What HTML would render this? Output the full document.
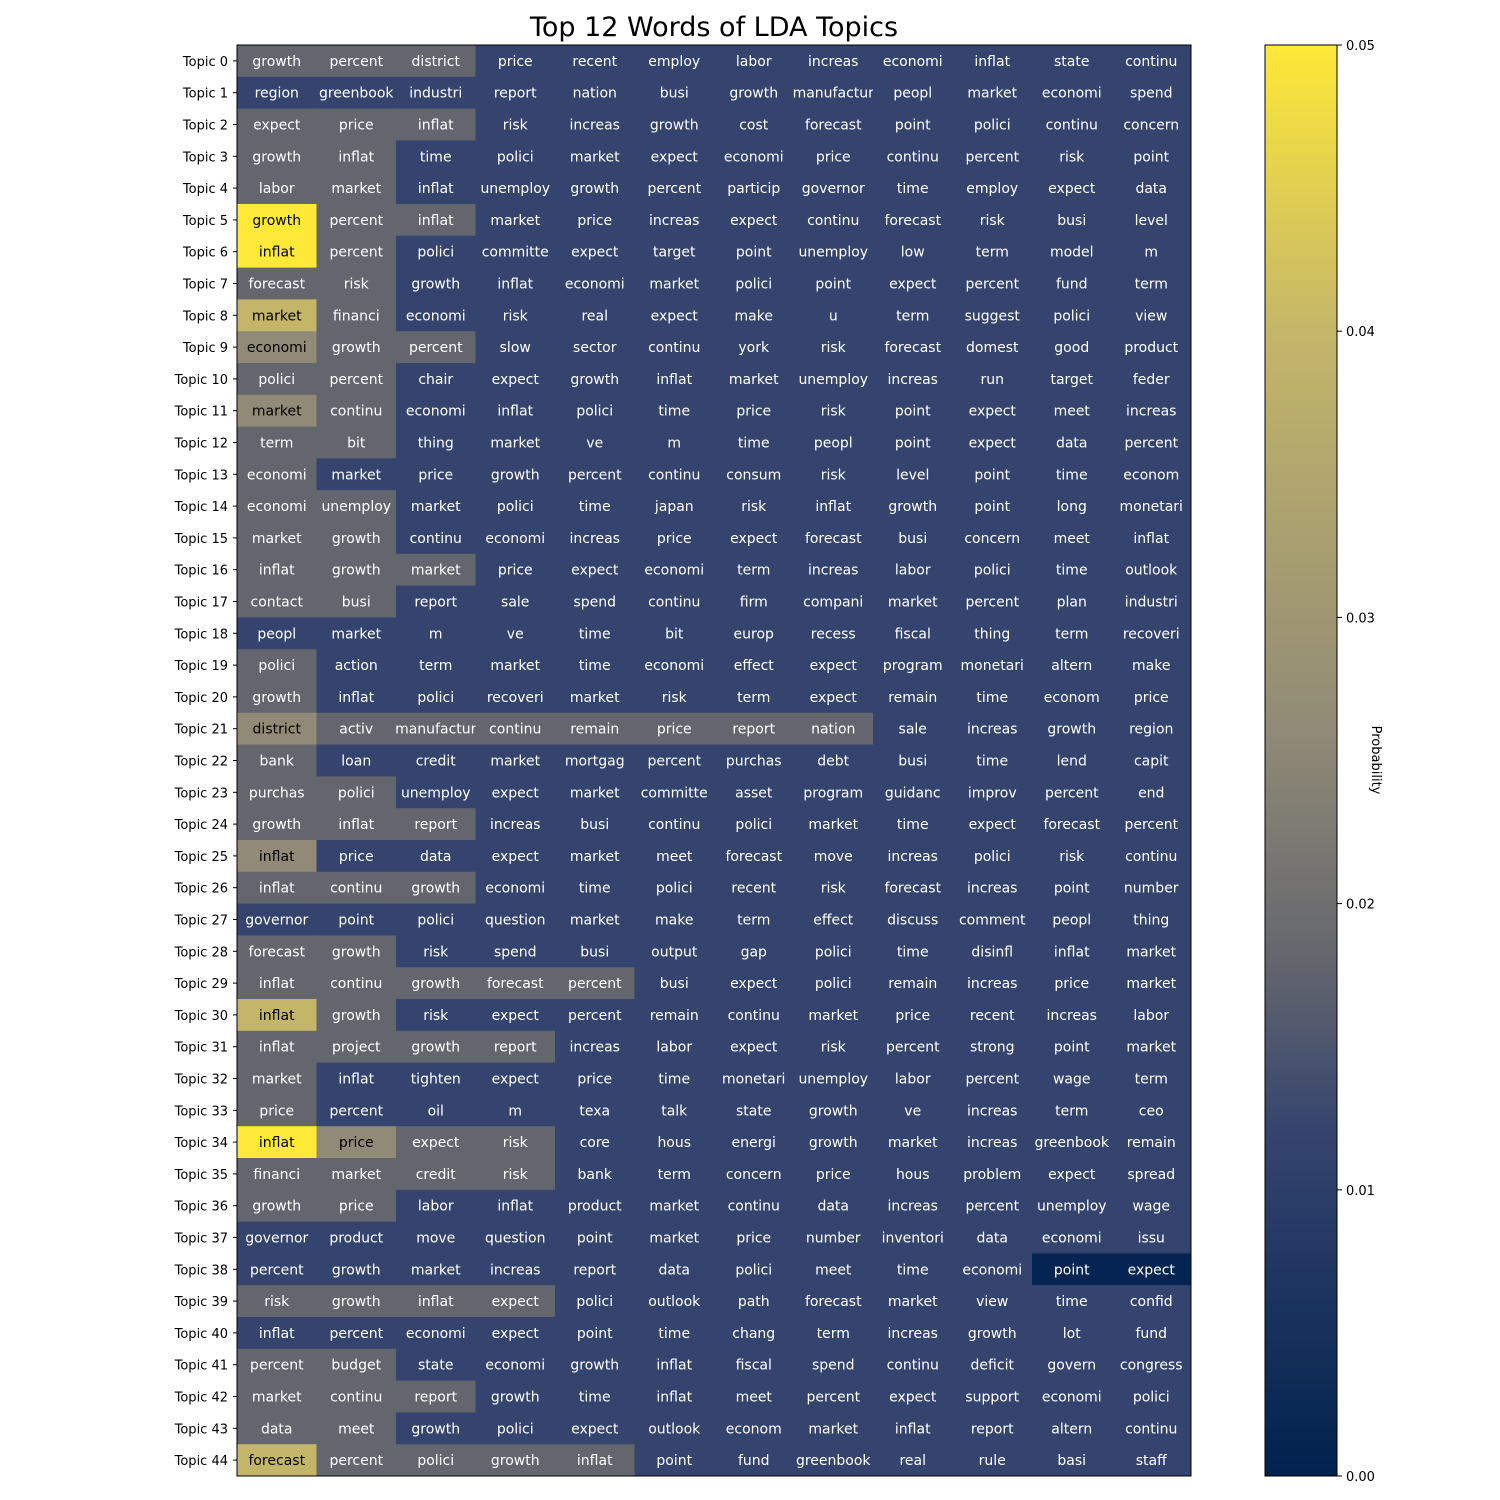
<!DOCTYPE html>
<html><head><meta charset="utf-8">
<style>
html,body{margin:0;padding:0;background:#fff;}
svg{display:block;font-family:"DejaVu Sans","Liberation Sans",sans-serif;}
</style></head>
<body>
<svg id="chart" width="1500" height="1500" viewBox="0 0 1500 1500">
<text x="714" y="36" text-anchor="middle" font-size="27" fill="#000">Top 12 Words of LDA Topics</text>
<g id="cells"></g>
<g id="yticks"></g>
<rect x="237" y="45" width="954" height="1431" fill="none" stroke="#000" stroke-width="1"/>
<defs><linearGradient id="cbgrad" x1="0" y1="1" x2="0" y2="0">
<stop offset="0" stop-color="#00224e"/><stop offset="0.24" stop-color="#35446e"/><stop offset="0.36" stop-color="#64666e"/><stop offset="0.52" stop-color="#908a76"/><stop offset="0.8" stop-color="#c4b669"/><stop offset="1" stop-color="#fee838"/>
</linearGradient></defs>
<rect x="1265" y="45" width="72" height="1431" fill="url(#cbgrad)" stroke="#000" stroke-width="1"/>
<g id="cbticks"></g>
<text transform="translate(1372,760) rotate(90)" text-anchor="middle" font-size="13" fill="#000">Probability</text>
</svg>
<script>
const topics = [];
for (let i = 0; i < 45; i++) topics.push('Topic ' + i);
const words = [
"growth percent district price recent employ labor increas economi inflat state continu",
"region greenbook industri report nation busi growth manufactur peopl market economi spend",
"expect price inflat risk increas growth cost forecast point polici continu concern",
"growth inflat time polici market expect economi price continu percent risk point",
"labor market inflat unemploy growth percent particip governor time employ expect data",
"growth percent inflat market price increas expect continu forecast risk busi level",
"inflat percent polici committe expect target point unemploy low term model m",
"forecast risk growth inflat economi market polici point expect percent fund term",
"market financi economi risk real expect make u term suggest polici view",
"economi growth percent slow sector continu york risk forecast domest good product",
"polici percent chair expect growth inflat market unemploy increas run target feder",
"market continu economi inflat polici time price risk point expect meet increas",
"term bit thing market ve m time peopl point expect data percent",
"economi market price growth percent continu consum risk level point time econom",
"economi unemploy market polici time japan risk inflat growth point long monetari",
"market growth continu economi increas price expect forecast busi concern meet inflat",
"inflat growth market price expect economi term increas labor polici time outlook",
"contact busi report sale spend continu firm compani market percent plan industri",
"peopl market m ve time bit europ recess fiscal thing term recoveri",
"polici action term market time economi effect expect program monetari altern make",
"growth inflat polici recoveri market risk term expect remain time econom price",
"district activ manufactur continu remain price report nation sale increas growth region",
"bank loan credit market mortgag percent purchas debt busi time lend capit",
"purchas polici unemploy expect market committe asset program guidanc improv percent end",
"growth inflat report increas busi continu polici market time expect forecast percent",
"inflat price data expect market meet forecast move increas polici risk continu",
"inflat continu growth economi time polici recent risk forecast increas point number",
"governor point polici question market make term effect discuss comment peopl thing",
"forecast growth risk spend busi output gap polici time disinfl inflat market",
"inflat continu growth forecast percent busi expect polici remain increas price market",
"inflat growth risk expect percent remain continu market price recent increas labor",
"inflat project growth report increas labor expect risk percent strong point market",
"market inflat tighten expect price time monetari unemploy labor percent wage term",
"price percent oil m texa talk state growth ve increas term ceo",
"inflat price expect risk core hous energi growth market increas greenbook remain",
"financi market credit risk bank term concern price hous problem expect spread",
"growth price labor inflat product market continu data increas percent unemploy wage",
"governor product move question point market price number inventori data economi issu",
"percent growth market increas report data polici meet time economi point expect",
"risk growth inflat expect polici outlook path forecast market view time confid",
"inflat percent economi expect point time chang term increas growth lot fund",
"percent budget state economi growth inflat fiscal spend continu deficit govern congress",
"market continu report growth time inflat meet percent expect support economi polici",
"data meet growth polici expect outlook econom market inflat report altern continu",
"forecast percent polici growth inflat point fund greenbook real rule basi staff"
].map(s => s.split(' '));
// probability values per row (12 per topic)
const probs = [
[0.018,0.018,0.018,0.012,0.012,0.012,0.012,0.012,0.012,0.012,0.012,0.012],
[0.012,0.012,0.012,0.012,0.012,0.012,0.012,0.012,0.012,0.012,0.012,0.012],
[0.018,0.018,0.018,0.012,0.012,0.012,0.012,0.012,0.012,0.012,0.012,0.012],
[0.018,0.018,0.012,0.012,0.012,0.012,0.012,0.012,0.012,0.012,0.012,0.012],
[0.018,0.018,0.012,0.012,0.012,0.012,0.012,0.012,0.012,0.012,0.012,0.012],
[0.050,0.018,0.018,0.012,0.012,0.012,0.012,0.012,0.012,0.012,0.012,0.012],
[0.050,0.018,0.012,0.012,0.012,0.012,0.012,0.012,0.012,0.012,0.012,0.012],
[0.018,0.018,0.012,0.012,0.012,0.012,0.012,0.012,0.012,0.012,0.012,0.012],
[0.040,0.018,0.012,0.012,0.012,0.012,0.012,0.012,0.012,0.012,0.012,0.012],
[0.026,0.018,0.018,0.012,0.012,0.012,0.012,0.012,0.012,0.012,0.012,0.012],
[0.018,0.018,0.012,0.012,0.012,0.012,0.012,0.012,0.012,0.012,0.012,0.012],
[0.026,0.018,0.012,0.012,0.012,0.012,0.012,0.012,0.012,0.012,0.012,0.012],
[0.018,0.018,0.012,0.012,0.012,0.012,0.012,0.012,0.012,0.012,0.012,0.012],
[0.018,0.012,0.012,0.012,0.012,0.012,0.012,0.012,0.012,0.012,0.012,0.012],
[0.018,0.018,0.012,0.012,0.012,0.012,0.012,0.012,0.012,0.012,0.012,0.012],
[0.018,0.018,0.012,0.012,0.012,0.012,0.012,0.012,0.012,0.012,0.012,0.012],
[0.018,0.018,0.018,0.012,0.012,0.012,0.012,0.012,0.012,0.012,0.012,0.012],
[0.018,0.018,0.012,0.012,0.012,0.012,0.012,0.012,0.012,0.012,0.012,0.012],
[0.012,0.012,0.012,0.012,0.012,0.012,0.012,0.012,0.012,0.012,0.012,0.012],
[0.018,0.012,0.012,0.012,0.012,0.012,0.012,0.012,0.012,0.012,0.012,0.012],
[0.018,0.012,0.012,0.012,0.012,0.012,0.012,0.012,0.012,0.012,0.012,0.012],
[0.026,0.018,0.018,0.018,0.018,0.018,0.018,0.018,0.012,0.012,0.012,0.012],
[0.018,0.012,0.012,0.012,0.012,0.012,0.012,0.012,0.012,0.012,0.012,0.012],
[0.018,0.018,0.012,0.012,0.012,0.012,0.012,0.012,0.012,0.012,0.012,0.012],
[0.018,0.018,0.018,0.012,0.012,0.012,0.012,0.012,0.012,0.012,0.012,0.012],
[0.026,0.012,0.012,0.012,0.012,0.012,0.012,0.012,0.012,0.012,0.012,0.012],
[0.018,0.018,0.018,0.012,0.012,0.012,0.012,0.012,0.012,0.012,0.012,0.012],
[0.012,0.012,0.012,0.012,0.012,0.012,0.012,0.012,0.012,0.012,0.012,0.012],
[0.018,0.018,0.012,0.012,0.012,0.012,0.012,0.012,0.012,0.012,0.012,0.012],
[0.018,0.018,0.018,0.018,0.018,0.012,0.012,0.012,0.012,0.012,0.012,0.012],
[0.040,0.018,0.012,0.012,0.012,0.012,0.012,0.012,0.012,0.012,0.012,0.012],
[0.018,0.018,0.018,0.018,0.012,0.012,0.012,0.012,0.012,0.012,0.012,0.012],
[0.018,0.012,0.012,0.012,0.012,0.012,0.012,0.012,0.012,0.012,0.012,0.012],
[0.018,0.012,0.012,0.012,0.012,0.012,0.012,0.012,0.012,0.012,0.012,0.012],
[0.050,0.026,0.018,0.018,0.012,0.012,0.012,0.012,0.012,0.012,0.012,0.012],
[0.018,0.018,0.018,0.018,0.012,0.012,0.012,0.012,0.012,0.012,0.012,0.012],
[0.018,0.018,0.012,0.012,0.012,0.012,0.012,0.012,0.012,0.012,0.012,0.012],
[0.012,0.012,0.012,0.012,0.012,0.012,0.012,0.012,0.012,0.012,0.012,0.012],
[0.012,0.012,0.012,0.012,0.012,0.012,0.012,0.012,0.012,0.012,0.001,0.001],
[0.018,0.018,0.018,0.018,0.012,0.012,0.012,0.012,0.012,0.012,0.012,0.012],
[0.012,0.012,0.012,0.012,0.012,0.012,0.012,0.012,0.012,0.012,0.012,0.012],
[0.018,0.018,0.012,0.012,0.012,0.012,0.012,0.012,0.012,0.012,0.012,0.012],
[0.018,0.018,0.018,0.012,0.012,0.012,0.012,0.012,0.012,0.012,0.012,0.012],
[0.018,0.018,0.012,0.012,0.012,0.012,0.012,0.012,0.012,0.012,0.012,0.012],
[0.040,0.018,0.018,0.018,0.018,0.012,0.012,0.012,0.012,0.012,0.012,0.012]
];
const cbTickValues = [0, 0.01, 0.02, 0.03, 0.04, 0.05];
const cbTickLabels = ['0.00','0.01','0.02','0.03','0.04','0.05'];

const NS = 'http://www.w3.org/2000/svg';
const X0 = 237, X1 = 1191, Y0 = 45, Y1 = 1476;
const nCols = 12, nRows = topics.length;
const cw = (X1 - X0) / nCols, ch = (Y1 - Y0) / nRows;
const vmin = 0, vmax = 0.05;
function xPos(c) { return X0 + c * cw; }
function yPos(r) { return Y0 + r * ch; }
function cbY(v) { return Y1 - (v - vmin) / (vmax - vmin) * (Y1 - Y0); }
const stops = [[0,[0,34,78]],[0.24,[53,68,110]],[0.36,[100,102,110]],[0.52,[144,138,118]],[0.8,[196,182,105]],[1,[254,232,56]]];
function cmap(v) {
  let t = Math.max(0, Math.min(1, (v - vmin) / (vmax - vmin)));
  for (let i = 1; i < stops.length; i++) {
    if (t <= stops[i][0]) {
      const a = stops[i-1], b = stops[i], f = (t - a[0]) / (b[0] - a[0]);
      const c = a[1].map((x, k) => Math.round(x + (b[1][k] - x) * f));
      return 'rgb(' + c.join(',') + ')';
    }
  }
  return 'rgb(254,232,56)';
}
function mk(tag, attrs) { const e = document.createElementNS(NS, tag); for (const k in attrs) e.setAttribute(k, attrs[k]); return e; }

const gc = document.getElementById('cells');
for (let r = 0; r < nRows; r++) {
  for (let c = 0; c < nCols; c++) {
    const v = probs[r][c];
    const rect = mk('rect', {x: xPos(c), y: yPos(r), width: cw + 0.5, height: ch + 0.5, fill: cmap(v)});
    
    
    gc.appendChild(rect);
    const t = mk('text', {x: xPos(c) + cw / 2, y: yPos(r) + ch / 2 + 5, 'text-anchor': 'middle', 'font-size': 14, fill: v > 0.025 ? '#000' : '#fff'});
    t.textContent = words[r][c];
    
    
    gc.appendChild(t);
  }
}
const gy = document.getElementById('yticks');
for (let r = 0; r < nRows; r++) {
  const yc = yPos(r) + ch / 2;
  const ln = mk('line', {x1: X0 - 4, x2: X0, y1: yc, y2: yc, stroke: '#000', 'stroke-width': 1});
  
  
  gy.appendChild(ln);
  const t = mk('text', {x: X0 - 9, y: yc + 5, 'text-anchor': 'end', 'font-size': 13, fill: '#000'});
  t.textContent = topics[r];
  
  
  gy.appendChild(t);
}
const gb = document.getElementById('cbticks');
cbTickValues.forEach((v, i) => {
  const y = cbY(v);
  const ln = mk('line', {x1: 1337, x2: 1342, y1: y, y2: y, stroke: '#000', 'stroke-width': 1});
  
  
  gb.appendChild(ln);
  const t = mk('text', {x: 1346, y: y + 5, 'font-size': 13, fill: '#000'});
  t.textContent = cbTickLabels[i];
  
  
  gb.appendChild(t);
});
</script>
</body></html>
